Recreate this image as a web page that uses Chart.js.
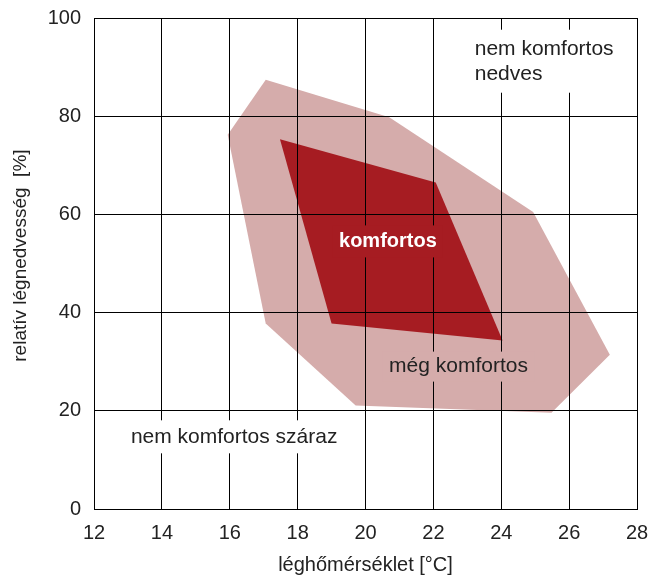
<!DOCTYPE html>
<html>
<head>
<meta charset="utf-8">
<script src="https://cdn.jsdelivr.net/npm/chart.js@4/dist/chart.umd.min.js"></script>
<style>
  html, body { margin: 0; padding: 0; background: #fff; }
  #wrap { width: 650px; height: 577px; }
</style>
</head>
<body>
<div id="wrap"><canvas id="chart" width="650" height="577"></canvas></div>
<script>
// comfort zones: air temperature [°C] vs relative humidity [%]
const outerTemp = [17.06, 20.70, 24.94, 27.20, 25.48, 19.71, 17.06, 15.94];
const outerRH   = [87.4, 79.8, 60.5, 31.4, 19.6, 21.1, 37.8, 76.2];
const innerTemp = [17.48, 22.07, 24.04, 19.00];
const innerRH   = [75.3, 66.5, 34.3, 37.8];

const xTicks = [12, 14, 16, 18, 20, 22, 24, 26, 28];
const yTicks = [0, 20, 40, 60, 80, 100];

const FONT = '"Liberation Sans", Arial, sans-serif';
const PINK = '#d5acab';
const RED = '#a61c22';

// closed polygon point list
function poly(xs, ys) {
  const pts = xs.map((x, i) => ({ x: x, y: ys[i] }));
  pts.push(pts[0]);
  return pts;
}

// text labels inside the plot, with a box that hides the grid behind them
const notes = [
  { lines: ['nem komfortos', 'nedves'], x: 25.31, y: 91.2, bg: '#fff', color: '#222', bold: false, w: 150, h: 63 },
  { lines: ['komfortos'], x: 20.66, y: 54.5, bg: RED, color: '#fff', bold: true, w: 110, h: 32 },
  { lines: ['még komfortos'], x: 22.74, y: 29.0, bg: PINK, color: '#222', bold: false, w: 152, h: 30 },
  { lines: ['nem komfortos száraz'], x: 16.13, y: 14.7, bg: '#fff', color: '#222', bold: false, w: 216, h: 33 }
];

const notesPlugin = {
  id: 'notes',
  afterDraw(chart) {
    const ctx = chart.ctx;
    const xs = chart.scales.x, ys = chart.scales.y;
    ctx.save();
    notes.forEach(n => {
      const cx = xs.getPixelForValue(n.x);
      const cy = ys.getPixelForValue(n.y);
      ctx.fillStyle = n.bg;
      ctx.fillRect(cx - n.w / 2, cy - n.h / 2, n.w, n.h);
      ctx.fillStyle = n.color;
      ctx.font = n.bold ? 'bold 20px ' + FONT : '21px ' + FONT;
      ctx.textAlign = n.lines.length > 1 ? 'left' : 'center';
      ctx.textBaseline = 'middle';
      const lh = 25;
      const y0 = cy - (n.lines.length - 1) * lh / 2;
      n.lines.forEach((t, i) => {
        const tx = n.lines.length > 1 ? cx - n.w / 2 + 4 : cx;
        ctx.fillText(t, tx, y0 + i * lh);
      });
    });
    ctx.restore();
  }
};

new Chart(document.getElementById('chart'), {
  type: 'scatter',
  data: {
    datasets: [{
      label: 'komfortos',
      data: poly(innerTemp, innerRH),
      showLine: true,
      fill: 'shape',
      backgroundColor: RED,
      borderWidth: 0,
      pointRadius: 0
    }, {
      label: 'még komfortos',
      data: poly(outerTemp, outerRH),
      showLine: true,
      fill: 'shape',
      backgroundColor: PINK,
      borderWidth: 0,
      pointRadius: 0
    }]
  },
  options: {
    responsive: false,
    animation: false,
    layout: { padding: { top: 18, right: 13, left: 0, bottom: 0 } },
    plugins: {
      legend: { display: false },
      tooltip: { enabled: false }
    },
    scales: {
      x: {
        type: 'linear',
        min: 12, max: 28,
        afterFit(scale) {
          scale.height = 68;
          scale.paddingLeft = 0;
          scale.paddingRight = 0;
        },
        afterBuildTicks(scale) { scale.ticks = xTicks.map(v => ({ value: v })); },
        grid: { color: '#000', lineWidth: 1, drawTicks: false, z: 1 },
        border: { color: '#000', width: 1, z: 1 },
        ticks: { color: '#222', padding: 12, font: { family: FONT, size: 20 } },
        title: {
          display: true,
          text: 'léghőmérséklet [°C]',
          color: '#222',
          padding: 0,
          font: { family: FONT, size: 20 }
        }
      },
      y: {
        type: 'linear',
        min: 0, max: 100,
        afterFit(scale) {
          scale.width = 94;
          scale.paddingTop = 0;
          scale.paddingBottom = 0;
        },
        afterBuildTicks(scale) { scale.ticks = yTicks.map(v => ({ value: v })); },
        grid: { color: '#000', lineWidth: 1, drawTicks: false, z: 1 },
        border: { color: '#000', width: 1, z: 1 },
        ticks: { color: '#222', padding: 13, font: { family: FONT, size: 20 } },
        title: {
          display: true,
          text: '   relatív légnedvesség  [%]',
          color: '#222',
          padding: { top: 9, bottom: 0 },
          font: { family: FONT, size: 19 }
        }
      }
    }
  },
  plugins: [notesPlugin]
});
</script>
</body>
</html>
